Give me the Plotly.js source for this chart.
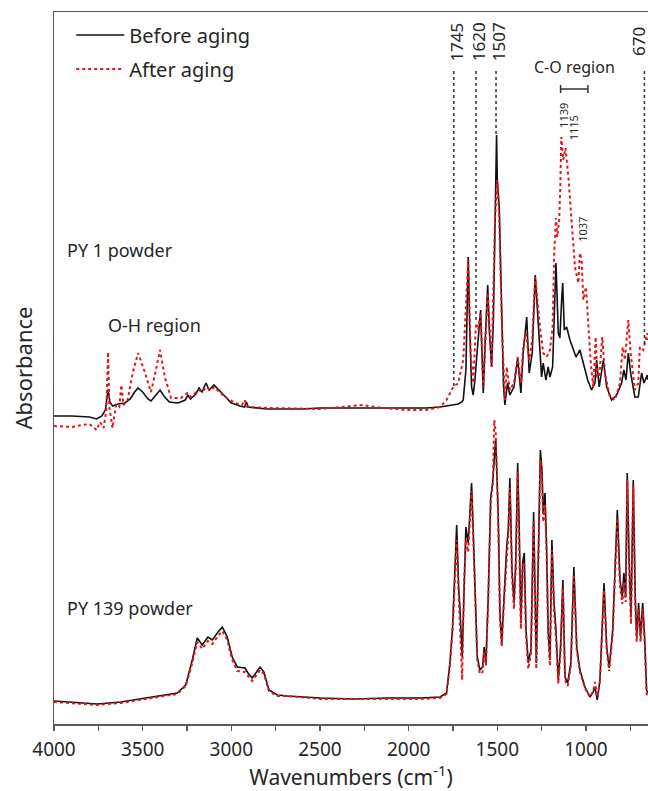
<!DOCTYPE html>
<html>
<head>
<meta charset="utf-8">
<script src="https://cdn.plot.ly/plotly-3.0.1.min.js"></script>
<style>
  html, body { margin: 0; padding: 0; background: #fff; }
  #chart { width: 648px; height: 791px; }
</style>
</head>
<body>
<div id="chart"></div>
<script>
// ---------- DATA (wavenumber in cm-1, absorbance in arbitrary offset units) ----------
const py1BeforeWn = [4000,3900,3800,3760,3730,3710,3695,3685,3670,3640,3600,3570,3545,3526,3500,3470,3453,3430,3402,3380,3350,3300,3260,3245,3230,3200,3182,3165,3143,3125,3098,3070,3040,3000,2950,2925,2915,2905,2800,2600,2500,2300,2100,1900,1823,1786,1750,1720,1700,
  1692,1677,1664,1655,1645,1636,1626,1616,1605,1594,1585,1579,1568,1554,1545,1532,1522,1512,1504,1500,1489,1482,1475,1465,1457,1442,1429,1406,1385,1367,1354,1334,1320,1303,1286,1275,1259,1250,1241,1226,1213,1203,1188,1179,1169,1156,1147,1137,1131,1122,1109,1090,1072,1056,1034,1019,1006,990,968,949,940,925,902,883,855,827,799,786,774,761,748,724,705,686,673,654,650];
const py1BeforeAbs = [3.08,3.08,3.07,3.05,3.08,3.14,3.35,3.22,3.18,3.20,3.21,3.25,3.32,3.36,3.32,3.25,3.23,3.28,3.34,3.28,3.22,3.21,3.24,3.29,3.25,3.30,3.36,3.32,3.41,3.34,3.39,3.34,3.28,3.21,3.18,3.17,3.22,3.17,3.15,3.15,3.16,3.16,3.16,3.16,3.17,3.18,3.19,3.20,3.22,
  3.24,3.54,4.67,3.94,3.37,3.29,3.44,3.67,3.94,4.14,3.64,3.31,3.84,4.39,3.94,3.57,4.04,5.24,5.89,5.44,5.17,4.64,4.04,3.39,3.19,3.41,3.29,3.37,3.66,3.31,3.71,4.07,3.51,3.71,4.49,4.17,3.77,3.47,3.61,3.44,3.57,3.47,3.57,4.04,4.61,3.91,3.86,4.24,4.41,3.94,3.97,3.84,3.74,3.67,3.74,3.64,3.57,3.44,3.34,3.41,3.64,3.37,3.64,3.37,3.24,3.29,3.41,3.54,3.44,3.71,3.51,3.27,3.27,3.51,3.41,3.49,3.44];

const py1AfterWn = [4000,3900,3840,3800,3760,3740,3720,3705,3695,3688,3670,3650,3632,3620,3608,3585,3556,3526,3492,3453,3425,3402,3375,3340,3285,3248,3230,3182,3165,3140,3118,3095,3062,3025,2978,2940,2925,2910,2780,2500,2260,2150,2000,1900,1823,1786,1748,1720,1692,
  1673,1664,1650,1636,1620,1608,1594,1579,1554,1532,1513,1500,1489,1475,1457,1447,1429,1406,1385,1367,1354,1338,1320,1303,1286,1275,1259,1241,1222,1203,1188,1179,1169,1162,1151,1145,1139,1128,1115,1100,1090,1081,1062,1043,1034,1024,1015,1000,987,974,959,945,936,925,908,893,865,836,808,793,780,761,748,724,705,696,677,654,650];
const py1AfterAbs = [2.98,2.97,2.99,3.00,2.94,3.02,2.96,3.14,3.72,3.17,2.96,3.19,3.17,3.39,3.19,3.24,3.51,3.71,3.54,3.32,3.54,3.74,3.47,3.26,3.26,3.31,3.27,3.34,3.32,3.37,3.34,3.37,3.31,3.26,3.21,3.19,3.24,3.17,3.16,3.15,3.19,3.16,3.14,3.14,3.17,3.24,3.37,3.41,3.64,
  4.37,4.64,3.71,3.41,4.01,3.94,4.11,3.37,4.31,3.57,5.04,5.44,5.07,4.04,3.24,3.57,3.34,3.41,3.67,3.41,3.77,3.91,3.64,3.84,4.47,4.24,3.97,3.71,3.67,3.74,3.97,4.71,5.06,4.87,5.04,5.34,5.87,5.64,5.76,5.49,5.24,5.04,4.57,4.41,4.71,4.64,4.24,4.37,4.04,3.64,3.37,3.87,3.47,3.47,3.87,3.51,3.27,3.24,3.41,3.77,3.64,4.04,3.71,3.34,3.41,3.77,3.74,3.91,3.84];

const py139BeforeWn = [4000,3756,3624,3436,3305,3257,3220,3192,3164,3132,3107,3079,3051,3023,2995,2966,2923,2906,2882,2838,2816,2788,2741,2684,2496,2308,2120,1932,1823,1786,1767,1752,1739,1729,1718,1711,1698,1688,1677,1664,1645,1636,1626,1613,1598,1583,1574,1564,1551,1537,1526,1517,1509,1495,1485,1475,1462,1447,1438,1429,1417,1406,1396,1385,1376,1367,1357,1348,1338,1325,1310,1295,1280,1265,1257,1248,1241,1231,1222,1213,1203,1192,1180,1169,1156,1143,1130,1118,1103,1085,1068,1052,1034,1006,977,959,949,936,921,898,883,869,849,823,808,795,786,776,767,756,746,733,722,714,703,692,680,669,658,650];
const py139BeforeAbs = [0.23,0.20,0.22,0.27,0.31,0.39,0.64,0.86,0.79,0.87,0.84,0.91,0.97,0.87,0.67,0.57,0.56,0.51,0.46,0.57,0.52,0.34,0.29,0.28,0.26,0.25,0.26,0.26,0.27,0.31,0.61,0.97,1.54,1.99,1.37,1.17,0.67,1.44,1.97,1.81,2.41,1.94,1.27,0.67,0.54,0.57,0.77,0.61,1.27,2.27,2.41,2.65,2.86,2.11,1.11,0.81,1.27,1.77,1.94,2.46,1.54,1.21,1.61,2.61,1.94,1.01,1.61,1.71,0.94,0.61,0.74,2.12,0.61,1.94,2.74,2.54,2.11,2.31,1.77,0.94,0.64,1.84,1.21,0.94,0.44,0.77,1.44,0.47,0.41,0.61,1.57,0.77,0.54,0.37,0.27,0.32,0.37,0.24,0.44,1.41,0.77,0.56,0.94,2.14,1.44,1.27,1.51,1.27,2.51,1.61,1.07,2.44,1.27,0.87,1.21,0.87,1.21,0.87,0.34,0.31];

const py139AfterWn = [4000,3756,3624,3436,3305,3257,3220,3192,3164,3132,3107,3079,3051,3023,2995,2966,2923,2906,2882,2838,2816,2788,2741,2684,2496,2308,2120,1932,1823,1786,1767,1752,1739,1729,1718,1711,1698,1688,1677,1664,1645,1636,1626,1613,1598,1583,1574,1564,1551,1537,1526,1517,1509,1495,1485,1475,1462,1447,1438,1429,1417,1406,1396,1385,1376,1367,1357,1348,1338,1325,1310,1295,1280,1265,1257,1248,1241,1231,1222,1213,1203,1192,1180,1169,1156,1143,1130,1118,1103,1085,1068,1052,1034,1006,977,959,949,936,921,898,883,869,849,823,808,795,786,776,767,756,746,733,722,714,703,692,680,669,658,650];
const py139AfterAbs = [0.22,0.19,0.21,0.26,0.30,0.38,0.61,0.82,0.75,0.83,0.80,0.87,0.93,0.84,0.64,0.53,0.52,0.48,0.43,0.54,0.50,0.33,0.28,0.28,0.25,0.25,0.25,0.25,0.26,0.30,0.59,0.94,1.45,1.84,1.30,1.04,0.44,1.38,1.84,1.72,2.33,1.90,1.24,0.64,0.50,0.52,0.72,0.58,1.24,2.22,2.38,3.04,2.92,2.05,1.05,0.77,1.22,1.72,1.88,2.36,1.48,1.15,1.55,2.52,1.88,0.95,1.55,1.62,0.88,0.55,0.70,2.02,0.55,1.88,2.64,2.45,2.02,2.20,1.70,0.88,0.58,1.74,1.12,0.86,0.40,0.72,1.36,0.44,0.38,0.58,1.50,0.74,0.52,0.36,0.27,0.33,0.42,0.27,0.43,1.34,0.74,0.53,0.90,2.06,1.38,1.20,1.42,1.22,2.44,1.55,1.00,2.38,1.20,0.82,1.15,0.82,1.15,0.82,0.30,0.28];

const markedPeaks = [1745, 1620, 1507, 670];
const markedLabels = ['1745', '1620', '1507', '670'];
const coPeakLabels = ['1139', '1115', '1037'];
const coRegion = [1143, 989];
const seriesNames = ['Before aging', 'After aging'];
const sampleNames = ['PY 1 powder', 'PY 139 powder'];

// ---------- STYLE ----------
const FONT = 'Noto Sans, DejaVu Sans, sans-serif';
const TXT = '#262626';
const AX = '#595959';
const BLACK = '#111111';
const RED = '#e8141b';

const traces = [
  {x: py1BeforeWn, y: py1BeforeAbs, name: seriesNames[0], legendgroup: 'a', mode: 'lines',
   line: {color: BLACK, width: 1.6}},
  {x: py1AfterWn, y: py1AfterAbs, name: seriesNames[1], legendgroup: 'b', mode: 'lines',
   line: {color: RED, width: 2, dash: 'dot'}},
  {x: py139BeforeWn, y: py139BeforeAbs, name: seriesNames[0], legendgroup: 'a', showlegend: false, mode: 'lines',
   line: {color: BLACK, width: 1.6}},
  {x: py139AfterWn, y: py139AfterAbs, name: seriesNames[1], legendgroup: 'b', showlegend: false, mode: 'lines',
   line: {color: RED, width: 2, dash: 'dot'}}
];

// vertical dotted marker lines: top and bottom (absorbance units)
const lineTop = 6.53;
const lineBottoms = [3.37, 4.04, 5.89, 3.79];
const shapes = markedPeaks.map((wn, i) => ({
  type: 'line', xref: 'x', yref: 'y', x0: wn, x1: wn, y0: lineTop, y1: lineBottoms[i],
  line: {color: '#333', width: 1.5, dash: 'dot'}
}));
// C-O region bar
const barY = 6.35;
shapes.push({type: 'line', xref: 'x', yref: 'y', x0: coRegion[0], x1: coRegion[1], y0: barY, y1: barY, line: {color: '#333', width: 1.5}});
shapes.push({type: 'line', xref: 'x', yref: 'y', x0: coRegion[0], x1: coRegion[0], y0: barY - 0.04, y1: barY + 0.04, line: {color: '#333', width: 1.5}});
shapes.push({type: 'line', xref: 'x', yref: 'y', x0: coRegion[1], x1: coRegion[1], y0: barY - 0.04, y1: barY + 0.04, line: {color: '#333', width: 1.5}});

const annotations = [];
const labelOffsetX = [-10, -12, -12, 36];
markedPeaks.forEach((wn, i) => {
  annotations.push({x: wn + labelOffsetX[i], y: 6.82, xref: 'x', yref: 'y', text: markedLabels[i], showarrow: false,
    textangle: -90, font: {family: FONT, size: 17, color: TXT}, xanchor: 'center', yanchor: 'middle'});
});
annotations.push({x: 1062, y: 6.57, xref: 'x', yref: 'y', text: 'C-O region', showarrow: false,
  font: {family: FONT, size: 16, color: TXT}, xanchor: 'center', yanchor: 'middle'});
const coLabelX = [1130, 1071, 1023];
const coLabelY = [6.09, 5.96, 4.95];
coPeakLabels.forEach((t, i) => {
  annotations.push({x: coLabelX[i], y: coLabelY[i], xref: 'x', yref: 'y', text: t, showarrow: false, textangle: -90,
    font: {family: FONT, size: 11, color: TXT}, xanchor: 'center', yanchor: 'middle'});
});
annotations.push({x: 3940, y: 4.74, xref: 'x', yref: 'y', text: sampleNames[0], showarrow: false,
  font: {family: FONT, size: 18, color: TXT}, xanchor: 'left', yanchor: 'middle'});
annotations.push({x: 3940, y: 1.16, xref: 'x', yref: 'y', text: sampleNames[1], showarrow: false,
  font: {family: FONT, size: 18, color: TXT}, xanchor: 'left', yanchor: 'middle'});
annotations.push({x: 3705, y: 3.99, xref: 'x', yref: 'y', text: 'O-H region', showarrow: false,
  font: {family: FONT, size: 18, color: TXT}, xanchor: 'left', yanchor: 'middle'});

const layout = {
  width: 648, height: 791,
  margin: {l: 54, r: 0, t: 12, b: 67, pad: 0},
  paper_bgcolor: '#fff', plot_bgcolor: '#fff',
  font: {family: FONT, color: TXT},
  showlegend: true,
  legend: {x: 0.029, y: 0.995, xanchor: 'left', yanchor: 'top', bgcolor: 'rgba(0,0,0,0)',
    font: {family: FONT, size: 20, color: TXT}, traceorder: 'grouped', tracegroupgap: 5, itemwidth: 48},
  xaxis: {
    range: [4000, 650], dtick: 500, tick0: 0, ticks: 'outside', ticklen: 5, tickwidth: 1.5, tickcolor: AX,
    minor: {dtick: 250, ticks: 'outside', ticklen: 5, tickwidth: 1.5, tickcolor: AX},
    showline: true, linecolor: AX, linewidth: 1.5, mirror: true, showgrid: false, zeroline: false,
    ticklabelstandoff: 3,
    tickfont: {family: FONT, size: 19, color: TXT},
    title: {text: 'Wavenumbers (cm<sup>-1</sup>)', font: {family: FONT, size: 21, color: TXT}, standoff: 8}
  },
  yaxis: {
    range: [0, 7.12], showticklabels: false, ticks: '', showline: true, linecolor: AX, linewidth: 1.5,
    showgrid: false, zeroline: false,
    title: {text: 'Absorbance', font: {family: FONT, size: 22, color: TXT}, standoff: 14}
  },
  shapes: shapes,
  annotations: annotations
};

Plotly.newPlot('chart', traces, layout, {displayModeBar: false, staticPlot: true});
</script>
</body>
</html>
